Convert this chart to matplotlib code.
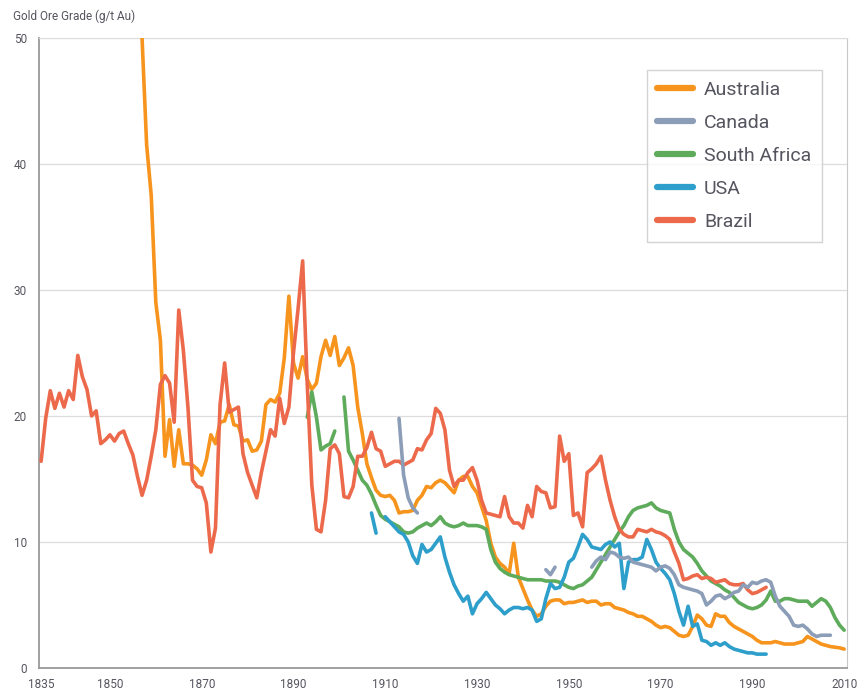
import matplotlib
matplotlib.use("Agg")
import matplotlib.pyplot as plt
import numpy as np

# Gold ore grade (g/t Au), annual values.
# Each country is a list of (first year, values) segments; gaps between segments.
AUSTRALIA = [(1857, [
    50.0, 41.5, 37.5, 29.0, 26.0, 16.8, 19.7, 16.0, 18.9, 16.2,
    16.2, 16.1, 15.8, 15.3, 16.5, 18.5, 17.8, 19.5, 19.6, 20.9,
    19.3, 19.2, 18.0, 18.1, 17.2, 17.3, 18.0, 20.9, 21.3, 21.1,
    21.8, 24.6, 29.5, 24.2, 23.0, 24.7, 22.9, 22.1, 22.6, 24.7,
    26.0, 24.8, 26.3, 24.0, 24.6, 25.4, 24.0, 20.7, 18.6, 16.2,
    15.1, 14.1, 13.7, 13.6, 13.7, 13.3, 12.3, 12.4, 12.4, 12.5,
    13.3, 13.7, 14.4, 14.3, 14.7, 14.9, 14.7, 14.3, 13.9, 14.9,
    15.2, 15.2, 14.4, 13.9, 12.8, 11.7, 9.9, 8.8, 8.3, 8.0,
    7.5, 9.9, 7.2, 6.3, 5.4, 4.6, 4.1, 4.3, 4.9, 5.3,
    5.4, 5.4, 5.1, 5.2, 5.2, 5.3, 5.4, 5.2, 5.3, 5.3,
    5.0, 5.1, 5.1, 4.8, 4.7, 4.6, 4.4, 4.3, 4.1, 4.1,
    3.9, 3.7, 3.4, 3.2, 3.3, 3.2, 2.9, 2.6, 2.5, 2.6,
    3.3, 4.2, 3.9, 3.4, 3.3, 4.3, 4.1, 4.1, 3.6, 3.3,
    3.1, 2.9, 2.7, 2.5, 2.2, 2.0, 2.0, 2.0, 2.1, 2.0,
    1.9, 1.9, 1.9, 2.0, 2.1, 2.5, 2.3, 2.1, 1.9, 1.8,
    1.7, 1.65, 1.6, 1.5])]

CANADA = [
    (1913, [19.8, 15.3, 13.5, 12.7, 12.3]),
    (1945, [7.8, 7.4, 8.0]),
    (1955, [
        8.0, 8.5, 8.8, 8.6, 9.2, 9.1, 8.8, 8.7, 8.8, 8.4,
        8.3, 8.2, 8.1, 8.0, 7.7, 8.0, 8.1, 7.9, 7.4, 6.6,
        6.4, 6.3, 6.2, 6.1, 5.9, 5.0, 5.3, 5.7, 5.8, 5.5,
        5.7, 6.0, 6.1, 6.6, 6.4, 6.8, 6.7, 6.9, 7.0, 6.8,
        5.7, 4.9, 4.5, 4.1, 3.4, 3.3, 3.4, 3.1, 2.7, 2.5,
        2.6, 2.6, 2.6]),
]

SOUTH_AFRICA = [
    (1893, [19.9, 21.9, 19.9, 17.3, 17.6, 17.8, 18.8]),
    (1901, [
        21.5, 17.2, 16.5, 15.7, 14.9, 14.5, 13.8, 12.9, 12.1, 11.8,
        11.6, 11.4, 11.2, 10.8, 10.7, 10.8, 11.1, 11.3, 11.5, 11.3,
        11.6, 12.0, 11.5, 11.3, 11.2, 11.3, 11.5, 11.3, 11.3, 11.3,
        11.2, 11.0, 9.4, 8.4, 7.9, 7.6, 7.4, 7.3, 7.2, 7.1,
        7.0, 7.0, 7.0, 7.0, 6.9, 6.9, 6.9, 6.8, 6.6, 6.4,
        6.3, 6.5, 6.6, 6.9, 7.2, 7.8, 8.4, 9.0, 9.6, 10.2,
        10.8, 11.3, 12.0, 12.5, 12.7, 12.8, 12.9, 13.1, 12.7, 12.5,
        12.4, 12.3, 11.0, 10.0, 9.4, 9.1, 8.8, 8.3, 7.7, 7.3,
        6.9, 6.7, 6.5, 6.2, 6.0, 5.6, 5.2, 5.0, 4.8, 4.7,
        4.8, 5.0, 5.4, 6.1, 5.3, 5.3, 5.5, 5.5, 5.4, 5.3,
        5.3, 5.3, 4.9, 5.2, 5.5, 5.3, 4.8, 4.0, 3.4, 3.0]),
]

USA = [
    (1907, [12.3, 10.7]),
    (1910, [
        12.0, 11.6, 11.2, 10.8, 10.6, 10.0, 8.9, 8.3, 9.8, 9.2,
        9.4, 9.9, 10.4, 8.8, 7.6, 6.6, 5.9, 5.3, 5.7, 4.3,
        5.1, 5.5, 6.0, 5.5, 5.0, 4.7, 4.3, 4.6, 4.8, 4.8,
        4.7, 4.8, 4.6, 3.7, 3.9, 5.5, 6.7, 6.3, 6.4, 7.2,
        8.4, 8.7, 9.6, 10.6, 10.2, 9.6, 9.5, 9.4, 9.8, 10.0,
        9.6, 9.9, 6.3, 8.4, 8.6, 8.6, 8.8, 10.2, 9.4, 8.4,
        7.9, 7.5, 7.0, 5.9, 4.5, 3.4, 4.9, 3.3, 3.5, 2.2,
        2.1, 1.8, 2.0, 1.8, 2.0, 1.7, 1.5, 1.4, 1.3, 1.2,
        1.2, 1.1, 1.1, 1.1]),
]

BRAZIL = [(1835, [
    16.4, 19.8, 22.0, 20.6, 21.8, 20.7, 22.0, 21.3, 24.8, 23.1,
    22.1, 20.0, 20.4, 17.8, 18.1, 18.5, 18.0, 18.6, 18.8, 17.8,
    16.9, 15.2, 13.7, 14.9, 16.8, 18.9, 22.5, 23.2, 22.6, 19.5,
    28.4, 25.2, 20.7, 14.9, 14.4, 14.3, 13.1, 9.2, 11.1, 20.9,
    24.2, 20.3, 20.5, 20.7, 17.0, 15.5, 14.5, 13.5, 15.5, 17.2,
    18.9, 18.4, 21.4, 19.4, 20.7, 25.0, 28.5, 32.3, 22.5, 14.5,
    11.0, 10.8, 13.3, 17.4, 17.7, 17.0, 13.6, 13.5, 14.4, 16.8,
    16.8, 17.5, 18.7, 17.4, 17.2, 16.0, 16.2, 16.4, 16.4, 16.1,
    16.3, 16.5, 17.4, 17.3, 18.1, 18.6, 20.6, 20.2, 18.9, 15.7,
    14.4, 14.9, 14.9, 15.5, 15.9, 14.9, 13.3, 12.3, 12.2, 12.1,
    12.0, 13.6, 12.0, 11.5, 11.5, 11.1, 12.9, 12.0, 14.4, 14.0,
    13.9, 12.7, 12.8, 18.4, 16.4, 17.0, 12.1, 12.3, 11.2, 15.5,
    15.8, 16.2, 16.8, 14.9, 13.3, 12.0, 11.0, 10.6, 10.4, 10.4,
    11.0, 10.9, 10.8, 11.0, 10.8, 10.7, 10.5, 10.2, 9.2, 8.3,
    7.0, 7.1, 7.3, 7.4, 7.1, 7.2, 7.1, 6.8, 6.9, 7.0,
    6.7, 6.6, 6.6, 6.7, 6.2, 5.9, 6.0, 6.2, 6.4])]

SERIES = ["Australia", "Canada", "South Africa", "USA", "Brazil"]
COLORS = ["#F7941D", "#8C9DB8", "#5EAB5C", "#2E9FCB", "#EC6A4B"]
DATA = [AUSTRALIA, CANADA, SOUTH_AFRICA, USA, BRAZIL]
ZORDER = [3, 5, 3, 4, 3]

X_TICKS = [1835, 1850, 1870, 1890, 1910, 1930, 1950, 1970, 1990, 2010]
Y_TICKS = [0, 10, 20, 30, 40, 50]

TEXT = "#55555f"
FONT = "Roboto"

fig = plt.figure(figsize=(8.61, 6.91), dpi=100)
ax = fig.add_axes([0.0456, 0.0333, 0.938, 0.912])

for name, color, segs, z in zip(SERIES, COLORS, DATA, ZORDER):
    for i, (start, vals) in enumerate(segs):
        yrs = np.arange(start, start + len(vals))
        ax.plot(yrs, vals, color=color, lw=2.6, zorder=z,
                solid_joinstyle="round", solid_capstyle="round",
                label=name if i == 0 else None)

ax.set_xlim(1834.6, 2010.6)
ax.set_ylim(0, 50)
ax.set_xticks(X_TICKS)
ax.set_yticks(Y_TICKS)
ax.tick_params(length=0, labelsize=8.5, labelcolor=TEXT)
ax.tick_params(axis="y", pad=9)
ax.tick_params(axis="x", pad=7)
for lab in ax.get_xticklabels() + ax.get_yticklabels():
    lab.set_fontfamily(FONT)
ax.grid(axis="y", color="#dddddd", lw=0.9, zorder=0)
ax.set_axisbelow(True)

ax.spines["left"].set_color("#9a9a9a")
ax.spines["bottom"].set_color("#9a9a9a")
ax.spines["left"].set_linewidth(1.3)
ax.spines["bottom"].set_linewidth(1.3)
ax.spines["right"].set_color("#c8c8c8")
ax.spines["top"].set_color("#dddddd")

fig.text(0.015, 0.976, "Gold Ore Grade (g/t Au)", fontsize=8.5,
         color=TEXT, family=FONT, va="center", ha="left")

leg = ax.legend(loc="upper right", bbox_to_anchor=(0.969, 0.949),
                prop={"family": FONT, "size": 14}, labelcolor=TEXT,
                frameon=True, fancybox=False, handlelength=1.85,
                handletextpad=0.55, labelspacing=0.78, borderpad=0.55,
                borderaxespad=0)
leg.get_frame().set_edgecolor("#c8c8c8")
leg.get_frame().set_linewidth(1.0)
for h in leg.get_lines():
    h.set_linewidth(4.5)
    h.set_solid_capstyle("round")

fig.savefig("out.png", dpi=100)
